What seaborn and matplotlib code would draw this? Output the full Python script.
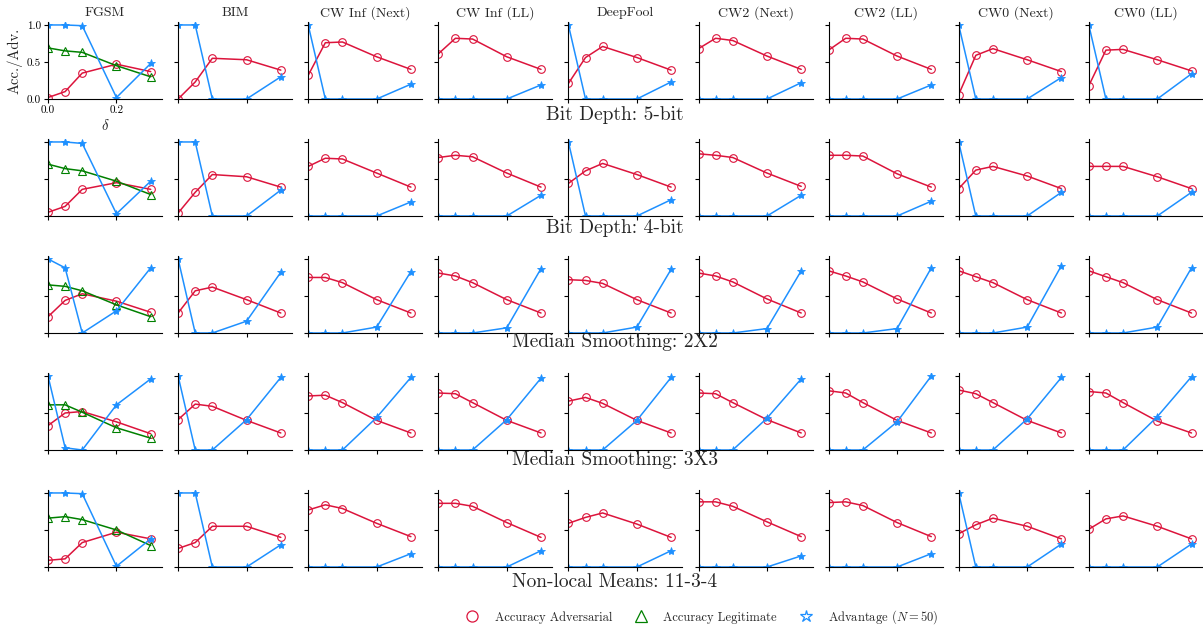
import matplotlib
matplotlib.use("Agg")
import matplotlib.pyplot as plt
from matplotlib.lines import Line2D
from matplotlib.ticker import FormatStrFormatter
import seaborn as sns

delta = [0.0, 0.05, 0.1, 0.2, 0.3]

attacks = ["FGSM", "BIM", "CW Inf (Next)", "CW Inf (LL)", "DeepFool",
           "CW2 (Next)", "CW2 (LL)", "CW0 (Next)", "CW0 (LL)"]
squeezers = ["Bit Depth: 5-bit", "Bit Depth: 4-bit", "Median Smoothing: 2X2",
             "Median Smoothing: 3X3", "Non-local Means: 11-3-4"]

# accuracy on adversarial inputs, one list per attack
adv_5bit = [[0.02, 0.10, 0.35, 0.47, 0.37], [0.00, 0.23, 0.55, 0.53, 0.39],
            [0.32, 0.76, 0.77, 0.57, 0.40], [0.61, 0.82, 0.81, 0.57, 0.40],
            [0.21, 0.56, 0.71, 0.56, 0.39], [0.68, 0.82, 0.79, 0.58, 0.40],
            [0.66, 0.82, 0.81, 0.58, 0.40], [0.06, 0.59, 0.68, 0.53, 0.37],
            [0.18, 0.66, 0.67, 0.53, 0.38]]
adv_4bit = [[0.05, 0.13, 0.36, 0.45, 0.36], [0.04, 0.32, 0.56, 0.53, 0.39],
            [0.67, 0.78, 0.77, 0.58, 0.39], [0.79, 0.82, 0.80, 0.58, 0.39],
            [0.44, 0.61, 0.71, 0.56, 0.39], [0.84, 0.82, 0.79, 0.58, 0.40],
            [0.82, 0.82, 0.81, 0.57, 0.39], [0.37, 0.62, 0.67, 0.54, 0.37],
            [0.67, 0.67, 0.67, 0.53, 0.37]]
adv_med2 = [[0.22, 0.44, 0.53, 0.43, 0.28], [0.27, 0.57, 0.62, 0.45, 0.27],
            [0.75, 0.75, 0.68, 0.45, 0.27], [0.81, 0.77, 0.68, 0.45, 0.27],
            [0.72, 0.71, 0.67, 0.45, 0.27], [0.81, 0.77, 0.69, 0.46, 0.27],
            [0.84, 0.77, 0.69, 0.46, 0.27], [0.84, 0.76, 0.68, 0.45, 0.27],
            [0.84, 0.76, 0.68, 0.45, 0.27]]
adv_med3 = [[0.33, 0.50, 0.52, 0.38, 0.22], [0.41, 0.62, 0.59, 0.40, 0.23],
            [0.73, 0.74, 0.64, 0.40, 0.23], [0.77, 0.76, 0.64, 0.40, 0.23],
            [0.66, 0.71, 0.63, 0.40, 0.23], [0.77, 0.76, 0.64, 0.41, 0.23],
            [0.80, 0.77, 0.64, 0.40, 0.23], [0.81, 0.76, 0.64, 0.40, 0.23],
            [0.79, 0.77, 0.64, 0.39, 0.23]]
adv_nlm = [[0.09, 0.11, 0.33, 0.47, 0.38], [0.25, 0.33, 0.55, 0.55, 0.40],
           [0.77, 0.84, 0.79, 0.59, 0.41], [0.86, 0.86, 0.82, 0.60, 0.40],
           [0.59, 0.67, 0.73, 0.58, 0.40], [0.88, 0.88, 0.82, 0.61, 0.41],
           [0.87, 0.88, 0.83, 0.60, 0.41], [0.45, 0.57, 0.66, 0.55, 0.38],
           [0.51, 0.65, 0.69, 0.55, 0.38]]

# advantage (N=50)
gain_5bit = [[1.0, 1.0, 0.99, 0.02, 0.48], [1.0, 1.0, 0.0, 0.0, 0.30],
             [1.0, 0.0, 0.0, 0.0, 0.20], [0.0, 0.0, 0.0, 0.0, 0.19],
             [1.0, 0.0, 0.0, 0.0, 0.23], [0.0, 0.0, 0.0, 0.0, 0.22],
             [0.0, 0.0, 0.0, 0.0, 0.19], [1.0, 0.0, 0.0, 0.0, 0.29],
             [1.0, 0.0, 0.0, 0.0, 0.34]]
gain_4bit = [[1.0, 1.0, 0.98, 0.03, 0.47], [1.0, 1.0, 0.0, 0.0, 0.35],
             [0.0, 0.0, 0.0, 0.0, 0.19], [0.0, 0.0, 0.0, 0.0, 0.28],
             [1.0, 0.0, 0.0, 0.0, 0.22], [0.0, 0.0, 0.0, 0.0, 0.28],
             [0.0, 0.0, 0.0, 0.0, 0.20], [1.0, 0.0, 0.0, 0.0, 0.32],
             [0.0, 0.0, 0.0, 0.0, 0.32]]
gain_med2 = [[1.0, 0.88, 0.0, 0.30, 0.88], [1.0, 0.0, 0.0, 0.16, 0.82],
             [0.0, 0.0, 0.0, 0.08, 0.83], [0.0, 0.0, 0.0, 0.07, 0.87],
             [0.0, 0.0, 0.0, 0.08, 0.86], [0.0, 0.0, 0.0, 0.06, 0.84],
             [0.0, 0.0, 0.0, 0.06, 0.88], [0.0, 0.0, 0.0, 0.08, 0.91],
             [0.0, 0.0, 0.0, 0.08, 0.88]]
gain_med3 = [[1.0, 0.03, 0.0, 0.61, 0.96], [1.0, 0.0, 0.0, 0.41, 0.98],
             [0.0, 0.0, 0.0, 0.44, 0.98], [0.0, 0.0, 0.0, 0.41, 0.97],
             [0.0, 0.0, 0.0, 0.40, 0.98], [0.0, 0.0, 0.0, 0.43, 0.96],
             [0.0, 0.0, 0.0, 0.38, 1.00], [0.0, 0.0, 0.0, 0.42, 0.98],
             [0.0, 0.0, 0.0, 0.45, 0.99]]
gain_nlm = [[1.0, 1.0, 0.99, 0.01, 0.38], [1.0, 1.0, 0.0, 0.0, 0.30],
            [0.0, 0.0, 0.0, 0.0, 0.18], [0.0, 0.0, 0.0, 0.0, 0.22],
            [0.0, 0.0, 0.0, 0.0, 0.22], [0.0, 0.0, 0.0, 0.0, 0.15],
            [0.0, 0.0, 0.0, 0.0, 0.18], [1.0, 0.0, 0.0, 0.0, 0.31],
            [0.0, 0.0, 0.0, 0.0, 0.31]]

# accuracy on legitimate inputs (FGSM column only), one list per squeezer
legit_fgsm = [[0.69, 0.65, 0.63, 0.45, 0.30],
              [0.70, 0.64, 0.61, 0.47, 0.29],
              [0.65, 0.63, 0.57, 0.38, 0.22],
              [0.61, 0.61, 0.51, 0.30, 0.16],
              [0.66, 0.68, 0.64, 0.50, 0.29]]

rows = [(adv_5bit, gain_5bit), (adv_4bit, gain_4bit), (adv_med2, gain_med2),
        (adv_med3, gain_med3), (adv_nlm, gain_nlm)]

sns.set_style("ticks")
plt.rcParams.update({
    "font.family": "serif",
    "font.serif": ["cmr10"],
    "mathtext.fontset": "cm",
    "axes.formatter.use_mathtext": True,
    "axes.edgecolor": "black",
    "axes.linewidth": 0.8,
    "xtick.color": "black",
    "ytick.color": "black",
    "xtick.major.size": 3,
    "ytick.major.size": 3,
    "xtick.major.width": 0.8,
    "ytick.major.width": 0.8,
})

red, green, blue = "#dc143c", "#008000", "#1e90ff"
W, H = 1203, 634

fig = plt.figure(figsize=(12.03, 6.34), dpi=100)

label_base = [120, 233, 347, 465, 587]

for i, (adv, gain) in enumerate(rows):
    bottom = 99 + 117 * i
    for j in range(9):
        left = 48 + 130.1 * j
        ax = fig.add_axes([left / W, 1 - bottom / H, 114 / W, 77 / H])
        sns.lineplot(x=delta, y=adv[j], ax=ax, color=red, lw=1.1,
                     marker="o", ms=5.5, mfc="none", mec=red, mew=0.8)
        if j == 0:
            sns.lineplot(x=delta, y=legit_fgsm[i], ax=ax, color=green, lw=1.1,
                         marker="^", ms=5.5, mfc="none", mec=green, mew=0.8)
        sns.lineplot(x=delta, y=gain[j], ax=ax, color=blue, lw=1.1,
                     marker="*", ms=6, mfc=blue, mec=blue, mew=0.6)
        ax.set_xlim(0, 0.333)
        ax.set_ylim(0, 1.04)
        ax.set_xticks([0, 0.2])
        ax.set_yticks([0, 0.5, 1.0])
        ax.tick_params(labelsize=8, pad=2)
        if i == 0 and j == 0:
            ax.xaxis.set_major_formatter(FormatStrFormatter("%.1f"))
            ax.yaxis.set_major_formatter(FormatStrFormatter("%.1f"))
            ax.set_xlabel(r"$\delta$", fontsize=10.5, labelpad=2)
            ax.set_ylabel("Acc./Adv.", fontsize=10.5, labelpad=3)
        else:
            ax.set_xticklabels([])
            ax.set_yticklabels([])
        if i == 0:
            ax.set_title(attacks[j], fontsize=10, pad=4)
        sns.despine(ax=ax)
    fig.text(615 / W, 1 - label_base[i] / H, squeezers[i], ha="center",
             va="baseline", fontsize=14)

handles = [
    Line2D([], [], ls="none", marker="o", ms=8, mfc="none", mec=red, mew=0.9),
    Line2D([], [], ls="none", marker="^", ms=8, mfc="none", mec=green, mew=0.9),
    Line2D([], [], ls="none", marker="*", ms=9, mfc="none", mec=blue, mew=0.9),
]
fig.legend(handles, ["Accuracy Adversarial", "Accuracy Legitimate",
                     r"Advantage ($N=50$)"],
           loc="center", bbox_to_anchor=(699 / W, 1 - 617 / H), ncol=3,
           frameon=False, fontsize=9, handlelength=2, handletextpad=0.8,
           columnspacing=1.3)

fig.savefig("out.png", dpi=100)
